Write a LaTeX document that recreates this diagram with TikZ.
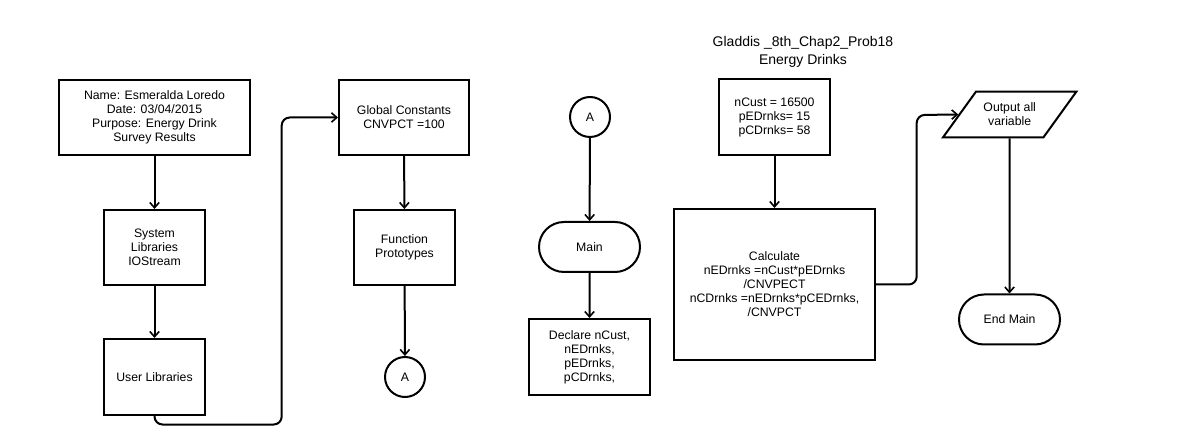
\documentclass[tikz,border=0pt]{standalone}
\usepackage{fontspec}
\setmainfont{Liberation Sans}
\usetikzlibrary{shapes.misc,shapes.geometric,arrows.meta}
\begin{document}
\begin{tikzpicture}[x=0.75pt,y=-0.75pt,
  every node/.style={font=\fontsize{9.2}{10.5}\selectfont, align=center, line width=1.5pt, inner sep=0pt},
  box/.style={draw, rectangle},
  term/.style={draw, rounded rectangle, minimum width=75.75pt, minimum height=37.5pt},
  conn/.style={draw, circle, minimum size=30pt},
  flow/.style={line width=1.5pt, -{Straight Barb[length=4pt,width=7pt,line width=1.2pt]}},
]
\useasboundingbox (0,0) rectangle (1198,448);
\fill[white] (0,0) rectangle (1198,448);

\node[box, minimum width=143.25pt, minimum height=56.25pt] (name) at (154.5,117.5)
  {Name: Esmeralda Loredo\\Date: 03/04/2015\\Purpose: Energy Drink\\Survey Results};
\node[box, minimum width=75.75pt, minimum height=56.25pt] (sys) at (154.5,247.5)
  {System\\Libraries\\IOStream};
\node[box, minimum width=75.75pt, minimum height=57pt] (user) at (154.5,377)
  {User Libraries};
\node[box, minimum width=97.5pt, minimum height=56.25pt] (glob) at (404,117.5)
  {Global Constants\\CNVPCT =100};
\node[box, minimum width=75.75pt, minimum height=56.25pt] (func) at (404.5,247.5)
  {Function\\Prototypes};
\node[conn] (a1) at (405,377) {A};

\node[conn] (a2) at (590,117) {A};
\node[term] (main) at (589.5,247) {Main};
\node[box, minimum width=90.75pt, minimum height=57pt] (decl) at (589.5,357)
  {Declare nCust,\\nEDrnks,\\pEDrnks,\\pCDrnks,};

\node[font=\fontsize{10.5}{13.8}\selectfont] (title) at (803,52)
  {Gladdis \_8th\_Chap2\_Prob18\\Energy Drinks};
\node[box, minimum width=83.25pt, minimum height=57pt] (vals) at (774.5,117)
  {nCust = 16500\\pEDrnks= 15\\pCDrnks= 58};
\node[box, minimum width=150.75pt, minimum height=113.25pt] (calc) at (774.5,284.5)
  {Calculate\\nEDrnks =nCust*pEDrnks\\/CNVPECT\\nCDrnks =nEDrnks*pCEDrnks,\\/CNVPCT};

\node[draw, trapezium, trapezium left angle=42, trapezium right angle=138,
  trapezium stretches=true, minimum width=100.5pt, minimum height=34.2pt] (out) at (1009.7,114.5)
  {Output all\\variable};
\node[term] (endm) at (1009.5,319.5) {End Main};

\draw[flow] (name) -- (sys);
\draw[flow] (sys) -- (user);
\draw[flow, rounded corners=6pt] (user.south) -- ++(0,8.5) -| (281.7,117.5) -- (glob.west);
\draw[flow] (glob) -- (func);
\draw[flow] (func) -- (a1);
\draw[flow] (a2) -- (main);
\draw[flow] (main) -- (decl);
\draw[flow] (vals) -- (calc);
\draw[flow, rounded corners=6pt] (calc.east) -| (916.7,115) -- (out.west);
\draw[flow] (out.south) -- (endm.north);
\end{tikzpicture}
\end{document}
